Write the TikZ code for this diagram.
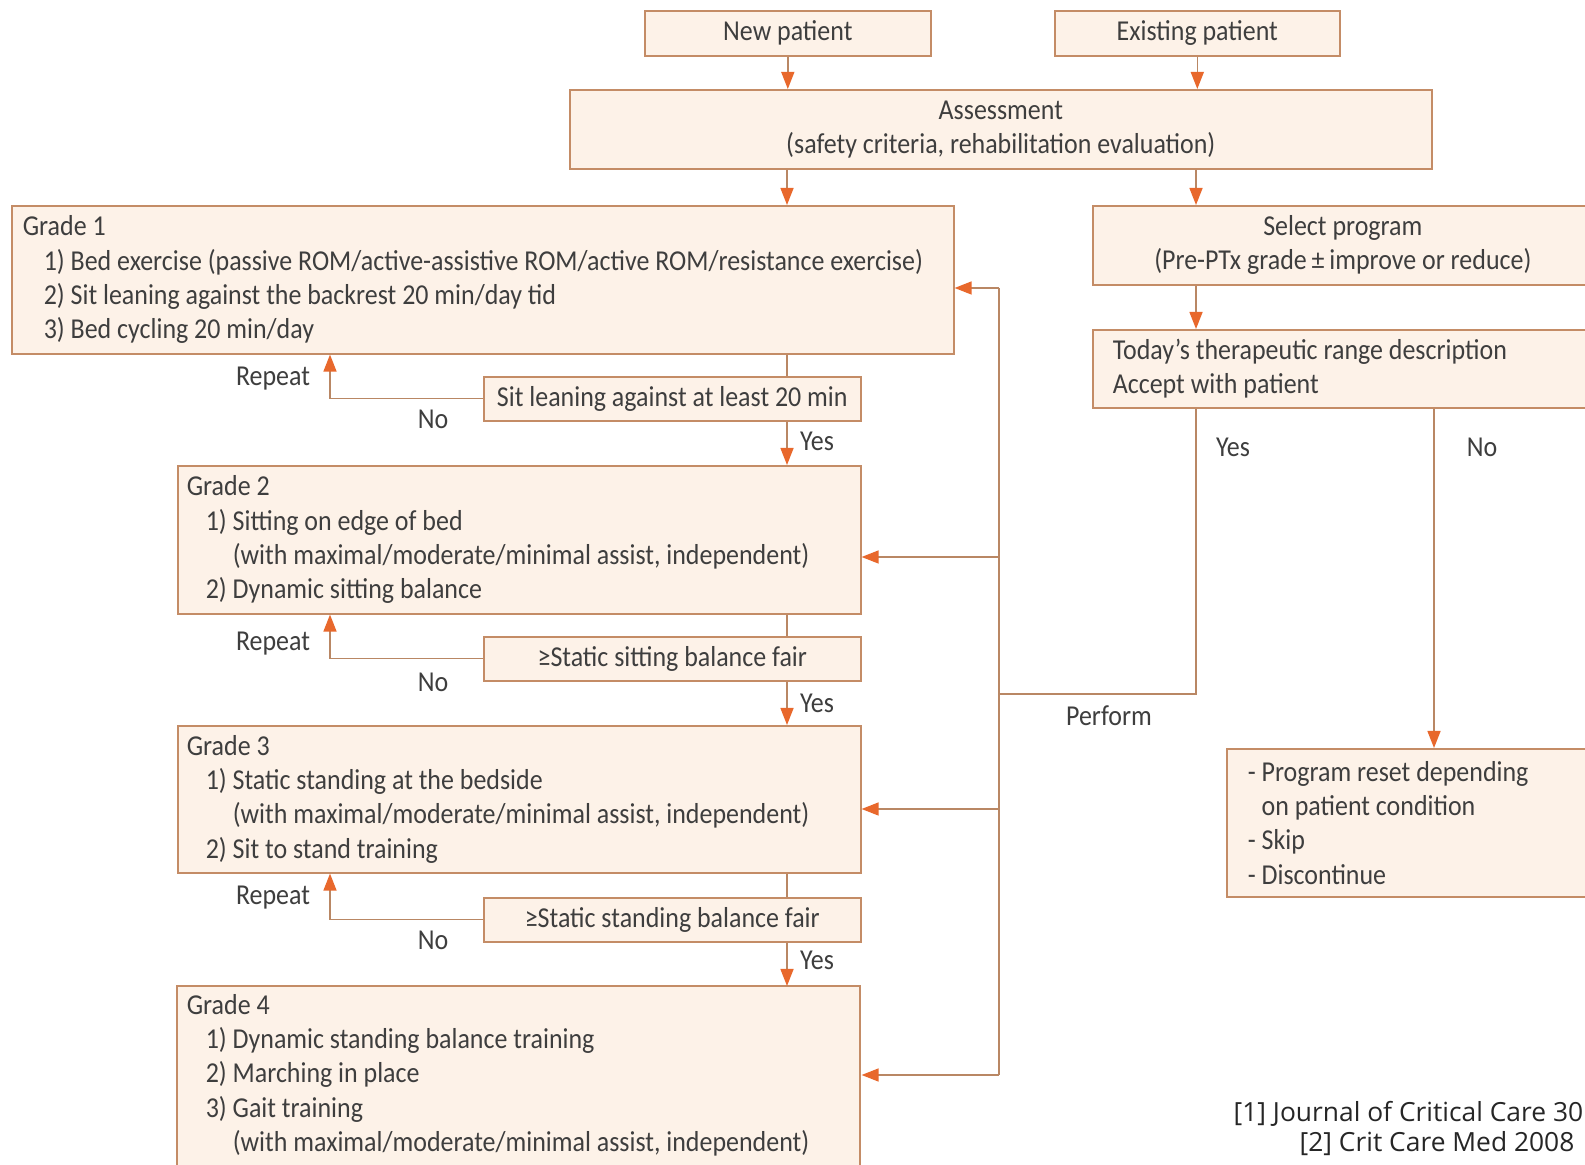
\documentclass[tikz,border=0pt]{standalone}
\usepackage{fontspec}
\setmainfont{Carlito}[FakeStretch=0.90]
\newfontfamily\notefont{Open Sans}
\usetikzlibrary{arrows.meta,calc}
\definecolor{boxfill}{RGB}{253,242,232}
\definecolor{boxline}{RGB}{196,140,102}
\definecolor{connc}{RGB}{185,135,100}
\definecolor{tipc}{RGB}{232,104,44}
\definecolor{txt}{RGB}{62,62,62}
\newdimen\px \px=0.01cm
\begin{document}
\begin{tikzpicture}[x=0.01cm,y=-0.01cm,
  every node/.style={font=\fontsize{8.2}{9.76}\selectfont, text=txt},
  box/.style={draw=boxline, fill=boxfill, line width=1.6\px, inner sep=0pt, anchor=north west},
  lbox/.style={box, align=flush left, inner xsep=#1},
  cbox/.style={box, align=center},
  lab/.style={inner sep=0pt},
  conn/.style={draw=connc, line width=1.4\px},
  arr/.style={conn, -{Triangle[length=0.17cm, width=0.13cm, color=tipc, fill=tipc]}},
  notes/.style={inner sep=0pt, anchor=west, font=\notefont\fontsize{7.5}{8.5}\selectfont, text=black!85}
]
\useasboundingbox (0,0) rectangle (1585,1165);
\fill[white] (0,0) rectangle (1585,1165);
\clip (0,0) rectangle (1585,1165);

% boxes
\node[cbox, minimum width=286\px, minimum height=45\px] (np) at (644,10) {New patient};
\node[cbox, minimum width=285\px, minimum height=45\px] (ep) at (1054,10) {Existing patient};
\node[cbox, minimum width=862\px, minimum height=79\px] (as) at (569,89) {Assessment\\(safety criteria, rehabilitation evaluation)};

\node[lbox=11\px, text width=920\px, minimum height=148\px] (g1) at (11,205)
 {Grade 1\\\hspace*{21\px}1) Bed exercise (passive ROM/active-assistive ROM/active ROM/resistance exercise)\\\hspace*{21\px}2) Sit leaning against the backrest 20 min/day tid\\\hspace*{21\px}3) Bed cycling 20 min/day};

\node[cbox, minimum width=500\px, minimum height=79\px] (sp) at (1092,205) {Select program\\(Pre-PTx grade\,±\,improve or reduce)};
\node[lbox=20\px, text width=458\px, minimum height=78\px] (td) at (1092,329) {Today’s therapeutic range description\\Accept with patient};

\node[cbox, minimum width=377\px, minimum height=44\px] (d1) at (483,376) {Sit leaning against at least 20 min};

\node[lbox=9\px, text width=665\px, minimum height=148\px] (g2) at (177,465)
 {Grade 2\\\hspace*{19\px}1) Sitting on edge of bed\\\hspace*{46\px}(with maximal/moderate/minimal assist, independent)\\\hspace*{19\px}2) Dynamic sitting balance};

\node[cbox, minimum width=377\px, minimum height=44\px] (d2) at (483,636) {≥Static sitting balance fair};

\node[lbox=9\px, text width=665\px, minimum height=147\px] (g3) at (177,725)
 {Grade 3\\\hspace*{19\px}1) Static standing at the bedside\\\hspace*{46\px}(with maximal/moderate/minimal assist, independent)\\\hspace*{19\px}2) Sit to stand training};

\node[cbox, minimum width=377\px, minimum height=44\px] (d3) at (483,897) {≥Static standing balance fair};

\filldraw[fill=boxfill, draw=boxline, line width=1.6\px] (177,986) rectangle (860,1200);
\node[lbox=9\px, draw=none, fill=none, text width=665\px, minimum height=177\px] (g4) at (177,986)
 {Grade 4\\\hspace*{19\px}1) Dynamic standing balance training\\\hspace*{19\px}2) Marching in place\\\hspace*{19\px}3) Gait training\\\hspace*{46\px}(with maximal/moderate/minimal assist, independent)};

\node[lbox=21\px, text width=332\px, minimum height=148\px] (rs) at (1226,748)
 {- Program reset depending\\\hphantom{- }on patient condition\\- Skip\\- Discontinue};

% coordinates
\coordinate (cx) at (787,0);
\coordinate (ex) at (1196,0);
\coordinate (rx) at (330,0);
\coordinate (nx) at (1434,0);
\coordinate (b1) at (999,288);
\coordinate (b2) at (999,557);
\coordinate (b3) at (999,809);
\coordinate (b4) at (999,1075);
\coordinate (bp) at (999,694);

% connectors
\draw[arr] (np) -- (np |- as.north);
\draw[arr] (ep) -- (ep |- as.north);
\draw[arr] (cx |- as.south) -- (cx |- g1.north);
\draw[arr] (ex |- as.south) -- (ex |- sp.north);
\draw[arr] (ex |- sp.south) -- (ex |- td.north);

\draw[conn] (cx |- g1.south) -- (cx |- d1.north);
\draw[arr] (cx |- d1.south) -- (cx |- g2.north);
\draw[arr] (d1.west) -| (rx |- g1.south);

\draw[conn] (cx |- g2.south) -- (cx |- d2.north);
\draw[arr] (cx |- d2.south) -- (cx |- g3.north);
\draw[arr] (d2.west) -| (rx |- g2.south);

\draw[conn] (cx |- g3.south) -- (cx |- d3.north);
\draw[arr] (cx |- d3.south) -- (cx |- g4.north);
\draw[arr] (d3.west) -| (rx |- g3.south);

\draw[conn] (b1) -- (b4);
\draw[arr] (b1) -- (b1 -| g1.east);
\draw[arr] (b2) -- (b2 -| g2.east);
\draw[arr] (b3) -- (b3 -| g3.east);
\draw[arr] (b4) -- (b4 -| g4.east);
\draw[conn] (ex |- td.south) |- (bp);
\draw[arr] (nx |- td.south) -- (nx |- rs.north);

% labels
\node[lab] (rep1) at (273,379) {Repeat};
\node[lab] (no1) at (433,419) {No};
\node[lab] (yes1) at (817,441) {Yes};
\node[lab] (rep2) at (273,644) {Repeat};
\node[lab] (no2) at (433,682) {No};
\node[lab] (yes2) at (817,703) {Yes};
\node[lab] (rep3) at (273,898) {Repeat};
\node[lab] (no3) at (433,940) {No};
\node[lab] (yes3) at (817,960) {Yes};
\node[lab] (yest) at (1233,447) {Yes};
\node[lab] (not) at (1482,447) {No};
\node[lab] (perf) at (1109,716) {Perform};

\node[notes] (fn1) at (1233,1114) {[1] Journal of Critical Care 30};
\node[notes] (fn2) at (1299,1144) {[2] Crit Care Med 2008};
\end{tikzpicture}
\end{document}
